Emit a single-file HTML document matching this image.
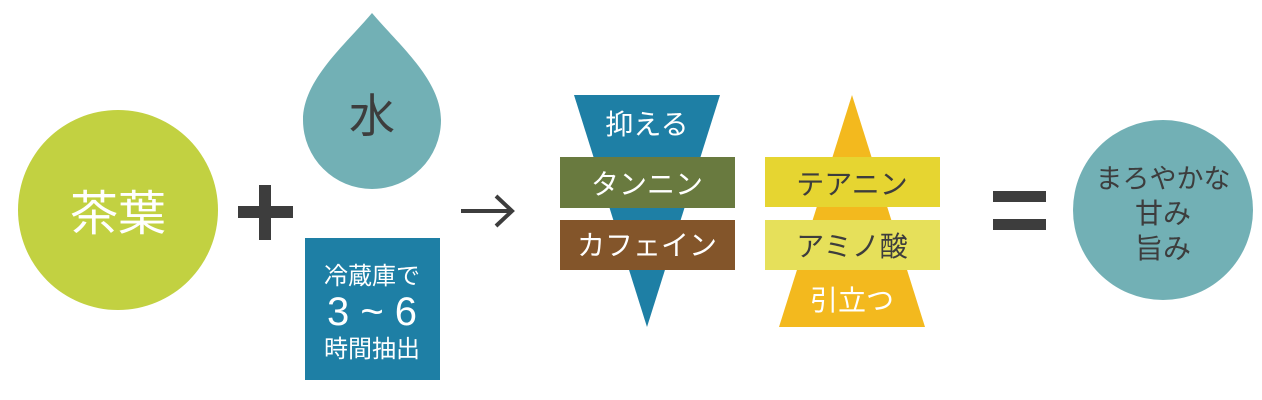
<!DOCTYPE html>
<html><head><meta charset="utf-8"><style>
html,body{margin:0;padding:0;background:#fff;width:1262px;height:400px;overflow:hidden}
svg{display:block}
text{font-family:"Liberation Sans","Noto Sans CJK JP",sans-serif}
</style></head><body>
<svg width="1262" height="400" viewBox="0 0 1262 400">
<circle cx="118" cy="210" r="100" fill="#c2d141"/>
<text x="118" y="230" font-size="48" fill="#fff" text-anchor="middle">茶葉</text>
<rect x="238" y="206" width="55" height="12" fill="#3d3d3d"/>
<rect x="259" y="185" width="12" height="55" fill="#3d3d3d"/>
<path d="M372 13 C345 45 303 80 303 120 A69 69 0 0 0 441 120 C441 80 399 45 372 13 Z" fill="#72b0b5"/>
<text x="372" y="132" font-size="46" fill="#3d3d3d" text-anchor="middle">水</text>
<rect x="305" y="238" width="135" height="142" fill="#1e7fa5"/>
<text x="372" y="284" font-size="24" fill="#fff" text-anchor="middle">冷蔵庫で</text>
<text x="372" y="325" font-size="40" fill="#fff" text-anchor="middle">3 ~ 6</text>
<text x="372" y="357" font-size="24" fill="#fff" text-anchor="middle">時間抽出</text>
<line x1="461" y1="211" x2="510" y2="211" stroke="#3d3d3d" stroke-width="4"/>
<polyline points="496,196 512,211 496,226" fill="none" stroke="#3d3d3d" stroke-width="4"/>
<polygon points="574,95 720,95 647,327" fill="#1e7fa5"/>
<text x="647" y="134" font-size="28" fill="#fff" text-anchor="middle">抑える</text>
<rect x="560" y="157" width="175" height="51" fill="#697a3f"/>
<text x="647" y="194" font-size="28" fill="#fff" text-anchor="middle">タンニン</text>
<rect x="560" y="220" width="175" height="50" fill="#83552a"/>
<text x="647" y="255" font-size="28" fill="#fff" text-anchor="middle">カフェイン</text>
<polygon points="852,95 925,327 779,327" fill="#f3b91e"/>
<rect x="765" y="157" width="175" height="50" fill="#e6d531"/>
<text x="852" y="194" font-size="28" fill="#3d3d3d" text-anchor="middle">テアニン</text>
<rect x="765" y="220" width="175" height="50" fill="#e6e05a"/>
<text x="852" y="256" font-size="28" fill="#3d3d3d" text-anchor="middle">アミノ酸</text>
<text x="852" y="310" font-size="28" fill="#fff" text-anchor="middle">引立つ</text>
<rect x="993" y="191" width="53" height="11" fill="#3d3d3d"/>
<rect x="993" y="219" width="53" height="11" fill="#3d3d3d"/>
<circle cx="1163" cy="210" r="90" fill="#72b0b5"/>
<text x="1163" y="188" font-size="27" fill="#3d3d3d" text-anchor="middle">まろやかな</text>
<text x="1163" y="223" font-size="28" fill="#3d3d3d" text-anchor="middle">甘み</text>
<text x="1163" y="258" font-size="28" fill="#3d3d3d" text-anchor="middle">旨み</text>
</svg>
</body></html>
